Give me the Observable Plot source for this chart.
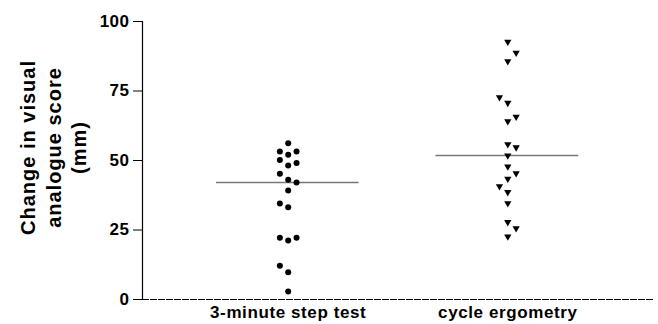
<!DOCTYPE html>
<html>
<head>
<meta charset="utf-8">
<script src="https://cdn.jsdelivr.net/npm/d3@7"></script>
<script src="https://cdn.jsdelivr.net/npm/@observablehq/plot@0.6"></script>
<style>
  html, body { margin: 0; padding: 0; background: #fff; }
  #chart svg { display: block; }
  #chart g[aria-label="text"] text { letter-spacing: 1px; }
  #chart g[aria-label="x-axis tick label"] text { letter-spacing: 0.6px; }
  #chart g[aria-label="y-axis tick label"] text { letter-spacing: 0.5px; }
</style>
</head>
<body>
<div id="chart"></div>
<script>
const categories = ["3-minute step test", "cycle ergometry"];
const yTicks = [0, 25, 50, 75, 100];
const yLabel = "Change in visual\nanalogue score\n(mm)";

// 3-minute step test values and column within the cluster (-1, 0, 1)
const stepValues = [56.2, 53.2, 52.1, 53.2, 50.2, 48.2, 49.1, 45.2, 43.1, 42.1, 39.2, 34.5, 33.2, 22.2, 21.2, 22.2, 12.1, 9.8, 2.9];
const stepCols   = [0, -1, 0, 1, -1, 0, 1, -1, 0, 1, 0, -1, 0, -1, 0, 1, -1, 0, 0];

// cycle ergometry values and column within the cluster
const cycleValues = [92.7, 88.7, 85.7, 72.7, 70.7, 65.7, 64.1, 55.8, 54.7, 51.8, 47.8, 45.4, 43.4, 40.7, 38.6, 34.6, 27.8, 25.6, 22.6];
const cycleCols   = [0, 1, 0, -1, 0, 1, 0, 0, 1, 0, 0, 1, 0, -1, 0, 0, 0, 1, 0];

const spread = 0.038;
const step = stepValues.map((v, i) => ({x: 1 + stepCols[i] * spread, y: v}));
const cycle = cycleValues.map((v, i) => ({x: 2 + cycleCols[i] * spread, y: v}));
const medians = [stepValues, cycleValues].map((vals, i) => ({c: i + 1, m: d3.median(vals)}));

const xMin = 0.3365, xMax = 2.6635;
const font = "'Liberation Sans', Arial, Helvetica, sans-serif";

const chart = Plot.plot({
  width: 658,
  height: 324,
  marginLeft: 142,
  marginRight: 5,
  marginTop: 21,
  marginBottom: 25,
  style: {fontFamily: font, color: "#000", background: "#fff"},
  x: {domain: [xMin, xMax], axis: null},
  y: {domain: [0, 100], axis: null},
  marks: [
    Plot.axisY({ticks: yTicks, tickSize: 9, tickPadding: 4, fontSize: 17, fontWeight: "bold", label: null, stroke: "#000"}),
    Plot.axisX({ticks: [1, 2], tickFormat: d => categories[d - 1], tickSize: 0, tickPadding: 6, fontSize: 17, fontWeight: "bold", label: null}),
    Plot.ruleX([xMin], {y1: 0, y2: 100, stroke: "#000", strokeWidth: 1.2}),
    Plot.ruleY([0], {x1: xMin, x2: xMax, stroke: "#000", strokeWidth: 1.2, strokeDasharray: "7,1"}),
    Plot.ruleY(medians, {y: "m", x1: d => d.c - 0.327, x2: d => d.c + 0.323, stroke: "#777", strokeWidth: 1.5}),
    Plot.dot(step, {x: "x", y: "y", r: 3, fill: "#000", stroke: null}),
    Plot.dot(cycle, {x: "x", y: "y", symbol: "triangle", r: 2.7, rotate: 180, fill: "#000", stroke: null}),
    Plot.text([yLabel], {frameAnchor: "left", textAnchor: "middle", dx: -90, dy: -13, rotate: -90, lineAnchor: "middle", lineHeight: 1.28, fontSize: 20, fontWeight: "bold", fill: "#000"})
  ]
});
document.getElementById("chart").appendChild(chart);
</script>
</body>
</html>
